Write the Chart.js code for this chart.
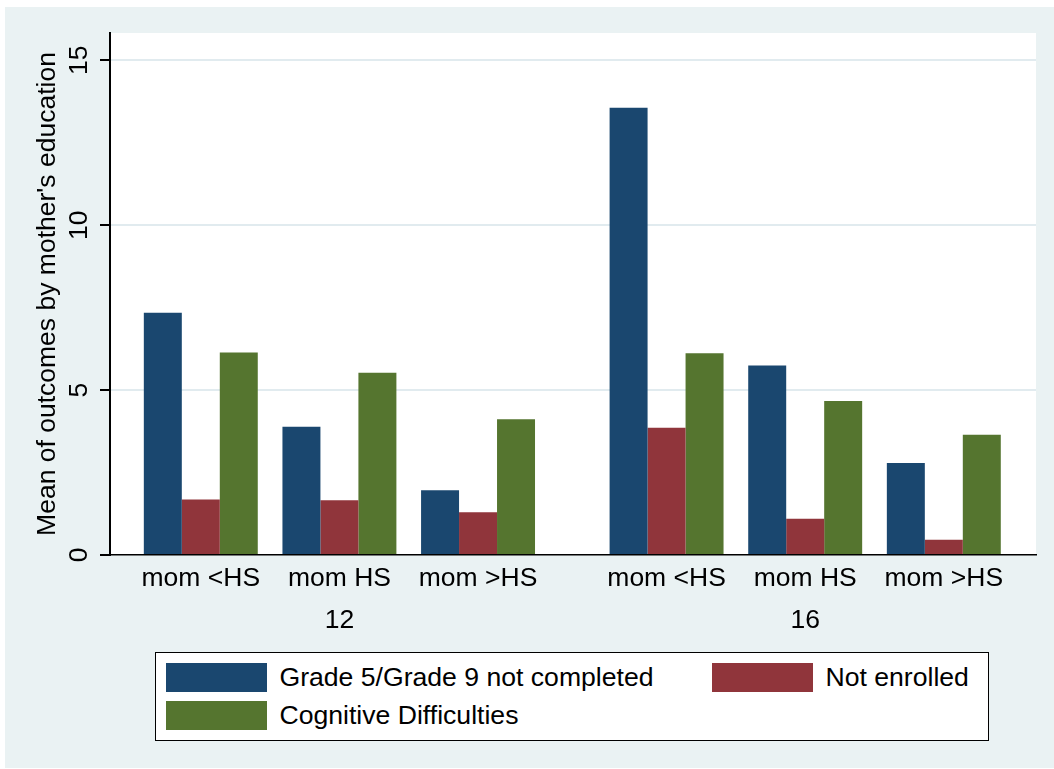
<!DOCTYPE html>
<html>
<head>
<meta charset="utf-8">
<title>Outcomes by mother's education</title>
<script src="https://cdn.jsdelivr.net/npm/chart.js@4.4.1/dist/chart.umd.min.js"></script>
<style>
body{margin:0;background:#fff;font-family:'Liberation Sans',Arial,sans-serif}
#wrap{position:absolute;left:5px;top:7px;width:1049px;height:761px;background:#eaf2f3}
#legend{position:absolute;left:150px;top:645px;width:834px;height:89px;box-sizing:border-box;
  background:#fff;border:1.5px solid #000;padding:10px 0 0 9.5px;
  display:grid;grid-template-columns:max-content max-content;column-gap:58px;row-gap:9px;align-content:start}
#legend .item{display:flex;align-items:center;height:29px;font-size:26.6px;line-height:29px;color:#000}
#legend .sw{display:inline-block;width:101px;height:29px;margin-right:13px}
</style>
</head>
<body>
<div id="wrap">
  <canvas id="chart"></canvas>
  <div id="legend"></div>
</div>
<script>
// values
const groups = ['mom <HS', 'mom HS', 'mom >HS'];
const ages = ['12', '16'];
const seriesNames = ['Grade 5/Grade 9 not completed', 'Not enrolled', 'Cognitive Difficulties'];
const notCompleted = [7.35, 3.89, 1.96, 13.56, 5.75, 2.79];
const notEnrolled = [1.68, 1.66, 1.30, 3.86, 1.10, 0.46];
const cognitive = [6.14, 5.53, 4.12, 6.12, 4.67, 3.65];
const yTicks = [0, 5, 10, 15];
const colors = ['#1a476f', '#90353b', '#55752f'];

// group centres on a linear x axis, with a wider gap between the two age blocks
const sectionGap = 0.36;
const xPos = [];
ages.forEach((a, s) => groups.forEach((g, j) => xPos.push(1 + j + s * (groups.length + sectionGap))));

function xLabel(i) {
    const g = groups[i % groups.length];
    if (i % groups.length === 1) return [g, ages[Math.floor(i / groups.length)]];
    return g;
}

const series = [notCompleted, notEnrolled, cognitive];

Chart.defaults.font.family = "'Liberation Sans', Arial, sans-serif";
Chart.defaults.font.size = 26.5;
Chart.defaults.color = '#000';

const plotBg = {
    id: 'plotBg',
    beforeDraw(chart) {
        const { ctx, chartArea: a } = chart;
        ctx.save();
        ctx.fillStyle = '#fff';
        ctx.fillRect(a.left, a.top, a.right - a.left, a.bottom - a.top);
        ctx.restore();
    }
};

const chart = new Chart(document.getElementById('chart'), {
    type: 'bar',
    data: {
        datasets: series.map((vals, k) => ({
            label: seriesNames[k],
            data: vals.map((v, i) => ({ x: xPos[i], y: v })),
            backgroundColor: colors[k],
            borderWidth: 0,
            categoryPercentage: 0.822,
            barPercentage: 1
        }))
    },
    options: {
        responsive: true,
        maintainAspectRatio: false,
        animation: false,
        layout: { padding: { top: 26, right: 18, left: 0, bottom: 0 } },
        plugins: {
            legend: { display: false },
            tooltip: { enabled: false }
        },
        scales: {
            x: {
                type: 'linear',
                min: 0.345,
                max: 7.025,
                bounds: 'data',
                offset: false,
                afterBuildTicks: s => { s.ticks = xPos.map(v => ({ value: v })); },
                afterFit: s => { s.height = 213; },
                grid: { display: false, offset: false },
                border: { color: '#000', width: 1.5 },
                ticks: {
                    autoSkip: false,
                    minRotation: 0,
                    maxRotation: 0,
                    padding: -6,
                    color: '#000',
                    font: { size: 26.5, lineHeight: 1.6 },
                    callback: (v, i) => xLabel(i)
                }
            },
            y: {
                min: 0,
                max: 15.83,
                bounds: 'data',
                afterBuildTicks: s => { s.ticks = yTicks.map(v => ({ value: v })); },
                afterFit: s => { s.width = 105; },
                grid: {
                    color: c => (c.tick && c.tick.value === 0) ? 'rgba(0,0,0,0)' : '#e1ebef',
                    lineWidth: 2,
                    tickLength: 10,
                    tickColor: '#000',
                    tickWidth: 2
                },
                border: { color: '#000', width: 2 },
                ticks: {
                    autoSkip: false,
                    minRotation: 90,
                    maxRotation: 90,
                    crossAlign: 'center',
                    padding: 6,
                    color: '#000',
                    font: { size: 26.5 }
                },
                title: {
                    display: true,
                    text: "Mean of outcomes by mother's education",
                    color: '#000',
                    font: { size: 26.5 },
                    padding: { top: 27, bottom: 0 }
                }
            }
        }
    },
    plugins: [plotBg]
});

// legend box built from the datasets
document.getElementById('legend').innerHTML = chart.data.datasets.map(d =>
    `<div class="item"><span class="sw" style="background:${d.backgroundColor}"></span><span>${d.label}</span></div>`
).join('');
</script>
</body>
</html>
